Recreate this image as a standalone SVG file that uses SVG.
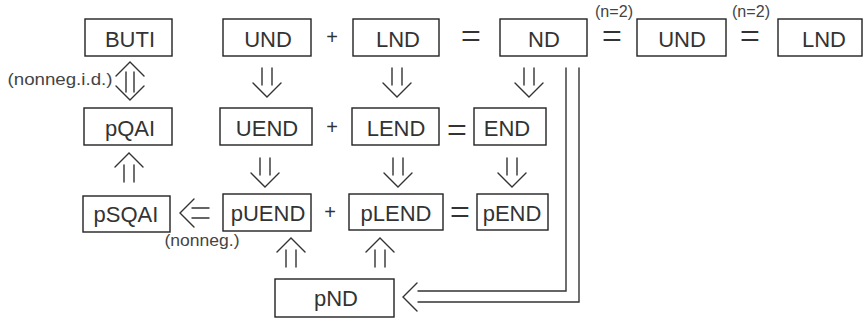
<svg xmlns="http://www.w3.org/2000/svg" width="864" height="323" viewBox="0 0 864 323">
  <style>
    .box { fill: #fff; stroke: #222; stroke-width: 1.4; }
    .lbl { font-family: "Liberation Sans", Arial, sans-serif; font-size: 22px; fill: #333; text-anchor: middle; }
    .op { font-family: "Liberation Sans", Arial, sans-serif; font-size: 20px; fill: #333; text-anchor: middle; }
    .eq { font-family: "DejaVu Sans", sans-serif; font-weight: 200; font-size: 28px; fill: #333; text-anchor: middle; }
    .small { font-family: "Liberation Sans", Arial, sans-serif; font-size: 16px; fill: #444; text-anchor: middle; }
    .arr { fill: none; stroke: #333; stroke-width: 1.4; stroke-linecap: round; stroke-linejoin: miter; }
  </style>
  <defs>
    <!-- double-shafted open arrow pointing down, top at origin -->
    <g id="dbl">
      <path d="M-5 0 V17 M5 0 V17 M-14 15 L0 29 L14 15" />
    </g>
  </defs>
  <rect width="864" height="323" fill="#fff"/>

  <!-- row 1 -->
  <g id="buti"><rect class="box" x="85" y="19" width="87" height="37"/><text class="lbl" x="130" y="47">BUTI</text></g>
  <g id="und"><rect class="box" x="223" y="19" width="88" height="37"/><text class="lbl" x="268" y="47">UND</text></g>
  <g id="lnd"><rect class="box" x="353" y="19" width="86" height="37"/><text class="lbl" x="398" y="47">LND</text></g>
  <g id="nd"><rect class="box" x="500" y="19" width="87" height="37"/><text class="lbl" x="544" y="47">ND</text></g>
  <g id="und2"><rect class="box" x="637" y="19" width="89" height="37"/><text class="lbl" x="682" y="47">UND</text></g>
  <g id="lnd2"><rect class="box" x="778" y="19" width="84" height="37"/><text class="lbl" x="824" y="47">LND</text></g>

  <!-- row 2 -->
  <g id="pqai"><rect class="box" x="84" y="108" width="88" height="37"/><text class="lbl" x="130" y="136">pQAI</text></g>
  <g id="uend"><rect class="box" x="220" y="108" width="92" height="37"/><text class="lbl" x="267" y="136">UEND</text></g>
  <g id="lend"><rect class="box" x="352" y="108" width="87" height="37"/><text class="lbl" x="396" y="136">LEND</text></g>
  <g id="end"><rect class="box" x="474" y="108" width="72" height="37"/><text class="lbl" x="507" y="136">END</text></g>

  <!-- row 3 -->
  <g id="psqai"><rect class="box" x="83" y="196" width="87" height="36"/><text class="lbl" x="126" y="222">pSQAI</text></g>
  <g id="puend"><rect class="box" x="223" y="194" width="88" height="37"/><text class="lbl" x="268" y="221">pUEND</text></g>
  <g id="plend"><rect class="box" x="349" y="194" width="94" height="36"/><text class="lbl" x="396" y="221">pLEND</text></g>
  <g id="pend"><rect class="box" x="477" y="194" width="71" height="36"/><text class="lbl" x="512" y="221">pEND</text></g>

  <!-- bottom -->
  <g id="pnd"><rect class="box" x="275" y="279" width="119" height="38"/><text class="lbl" x="336" y="306">pND</text></g>

  <!-- operators -->
  <g id="operators">
    <text class="op" x="332" y="44">+</text>
    <text class="op" x="332" y="134">+</text>
    <text class="op" x="330" y="219">+</text>
    <text class="eq" transform="translate(471,34) scale(0.95,1.8)" y="9.8">=</text>
    <text class="eq" transform="translate(612,34) scale(0.95,1.8)" y="9.8">=</text>
    <text class="eq" transform="translate(750,34) scale(0.95,1.8)" y="9.8">=</text>
    <text class="eq" transform="translate(457,128) scale(0.95,1.8)" y="9.8">=</text>
    <text class="eq" transform="translate(460,210) scale(0.95,1.8)" y="9.8">=</text>
  </g>

  <!-- side notes -->
  <g id="notes">
    <text class="small" x="614" y="17" textLength="38" lengthAdjust="spacingAndGlyphs">(n=2)</text>
    <text class="small" x="751" y="17" textLength="38" lengthAdjust="spacingAndGlyphs">(n=2)</text>
    <text class="small" x="60" y="85" textLength="105" lengthAdjust="spacingAndGlyphs">(nonneg.i.d.)</text>
    <text class="small" x="202" y="246" textLength="75" lengthAdjust="spacingAndGlyphs">(nonneg.)</text>
  </g>

  <!-- connectors -->
  <g id="connectors" class="arr">
    <!-- BUTI <=> pQAI -->
    <path d="M126 72 V92 M134 72 V92 M116 76 L130 62 L144 76 M116 86 L130 100 L144 86"/>
    <!-- downward implications -->
    <use href="#dbl" transform="translate(267,68)"/>
    <use href="#dbl" transform="translate(397,68)"/>
    <use href="#dbl" transform="translate(529,68)"/>
    <use href="#dbl" transform="translate(265,158)"/>
    <use href="#dbl" transform="translate(398,158)"/>
    <use href="#dbl" transform="translate(512,158)"/>
    <!-- upward implications -->
    <use href="#dbl" transform="translate(129,182) scale(1,-1)"/>
    <use href="#dbl" transform="translate(291,267) scale(1,-1)"/>
    <use href="#dbl" transform="translate(380,267) scale(1,-1)"/>
    <!-- pUEND => pSQAI -->
    <use href="#dbl" transform="translate(209,213) rotate(90)"/>
    <!-- ND => pND, routed down and back -->
    <path d="M566 68 V291 H418 M579 68 V302 H418 M417 283 L403 297 L417 311"/>
  </g>
</svg>
